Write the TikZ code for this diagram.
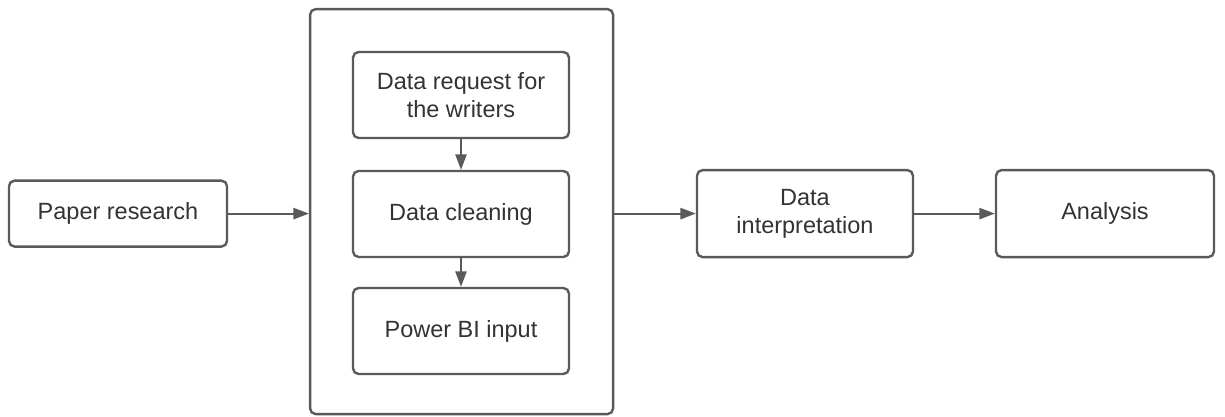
\documentclass[tikz,border=0pt]{standalone}
\usepackage{fontspec}
\setmainfont{Liberation Sans}
\usepackage{tikz}
\usetikzlibrary{arrows.meta}
\definecolor{edgegray}{HTML}{5A5A5A}
\definecolor{textgray}{HTML}{333333}
\tikzset{
	stepbox/.style={draw=edgegray, line width=1.7pt, rounded corners=4pt, fill=white,
		text=textgray, align=center, font=\fontsize{16.7}{20}\selectfont,
		minimum width=5.4cm, minimum height=2.15cm, inner sep=0pt},
	flow/.style={draw=edgegray, line width=1.3pt, -{Triangle[length=11pt,width=8pt]}}
}

\begin{document}
\begin{tikzpicture}
		\useasboundingbox (0,0) rectangle (30.625,-10.425);
		% Outer group around the data steps
		\node[stepbox, minimum width=7.575cm, minimum height=10.125cm] (group) at (11.54,-5.29) {};
		% Boxes
		\node[stepbox, minimum width=5.45cm, minimum height=1.65cm] (paper) at (2.95,-5.34) {Paper research};
		\node[stepbox] (request) at (11.525,-2.375) {Data request for\\the writers};
		\node[stepbox] (cleaning) at (11.525,-5.35) {Data cleaning};
		\node[stepbox] (powerbi) at (11.525,-8.275) {Power BI input};
		\node[stepbox, minimum height=2.175cm] (interp) at (20.125,-5.34) {Data\\interpretation};
		\node[stepbox, minimum width=5.45cm, minimum height=2.175cm] (analysis) at (27.625,-5.34) {Analysis};
		% Arrows
		\draw[flow] (paper.east) -- (paper.east -| group.west);
		\draw[flow] (request) -- (cleaning);
		\draw[flow] (cleaning) -- (powerbi);
		\draw[flow] (group.east |- interp.west) -- (interp.west);
		\draw[flow] (interp) -- (analysis);
	\end{tikzpicture}
\end{document}
